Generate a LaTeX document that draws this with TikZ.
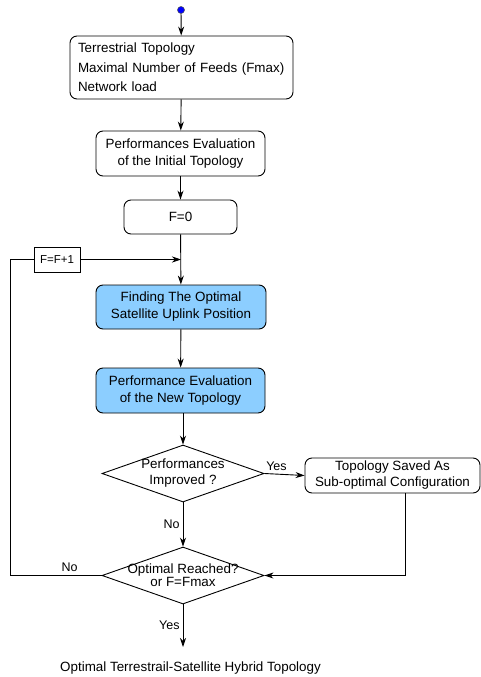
\documentclass[tikz,border=0pt]{standalone}
\usepackage{fontspec}
\setmainfont{Liberation Sans}
\usetikzlibrary{shapes.geometric}
\usetikzlibrary{arrows.meta}
\definecolor{satblue}{RGB}{140,206,255}

\begin{document}
\begin{tikzpicture}[x=1pt,y=-1pt,line width=0.9pt,
    font=\fontsize{13.4}{17}\selectfont,
    >={Stealth[length=9pt,width=6pt]},
    procbox/.style={draw, rounded corners=7pt, align=center, inner sep=0pt},
    satbox/.style={procbox, fill=satblue},
    decision/.style={draw, diamond, minimum width=162pt, minimum height=57pt, inner sep=0pt},
    lbl/.style={font=\fontsize{12.5}{15}\selectfont, inner sep=3pt}]
            \useasboundingbox (0,0) rectangle (480,677);
            % Hybrid topology design flow
            \node[circle, draw=black!70, fill=blue, inner sep=0pt, minimum size=7pt, line width=0.5pt] (start) at (181,10) {};
            \node[procbox, align=left, text width=207pt, inner xsep=8pt, minimum height=63pt, font=\fontsize{13.4}{19.5}\selectfont] (input) at (181.5,67.5) {Terrestrial Topology\\Maximal Number of Feeds (Fmax)\\Network load};
            \node[procbox, minimum width=169pt, minimum height=45pt] (initeval) at (180.5,153.5) {Performances Evaluation\\of the Initial Topology};
            \node[procbox, minimum width=113pt, minimum height=34pt] (init0) at (180.5,217) {F=0};
            \node[draw, rectangle, minimum width=46pt, minimum height=25pt, inner sep=0pt, font=\fontsize{11.5}{13}\selectfont] (inc) at (57,259.5) {F=F+1};
            \coordinate (join) at (181,259.5);
            \node[satbox, minimum width=170pt, minimum height=44pt] (find) at (181,307) {Finding The Optimal\\Satellite Uplink Position};
            \node[satbox, minimum width=169pt, minimum height=45pt] (neweval) at (180.5,390.5) {Performance Evaluation\\of the New Topology};
            \node[decision, label={[align=center, font=\fontsize{13.4}{16}\selectfont]center:Performances\\Improved ?}] (perf) at (183,473.5) {};
            \node[procbox, minimum width=175pt, minimum height=35pt, font=\fontsize{13.4}{16}\selectfont] (saved) at (392.5,475.5) {Topology Saved As\\Sub-optimal Configuration};
            \node[decision, label={[align=center, font=\fontsize{13.4}{13}\selectfont]center:Optimal Reached?\\or F=Fmax}] (reach) at (183,575.5) {};
            \node (result) at (190.5,668) {Optimal Terrestrail-Satellite Hybrid Topology};
            \coordinate (resend) at (183,647);

            \draw[->] (start) -- (input);
            \draw[->] (input) -- (initeval);
            \draw[->] (initeval) -- (init0);
            \draw[->] (init0) -- (find);
            \draw[->] (inc) -- (join);
            \draw[->] (find) -- (neweval);
            \draw[->] (neweval.south -| perf.north) -- (perf.north);
            \draw[->] (perf.east) -- node[lbl, above, pos=0.3] {Yes} (saved.west);
            \draw[->] (perf.south) -- node[lbl, left] {No} (reach.north);
            \draw[->] ([xshift=12.5pt]saved.south) |- (reach.east);
            \draw (reach.west) -- node[lbl, above, pos=0.35] {No} ++(-91,0) |- (inc.west);
            \draw[->] (reach.south) -- node[lbl, left] {Yes} (resend);
        \end{tikzpicture}
\end{document}
